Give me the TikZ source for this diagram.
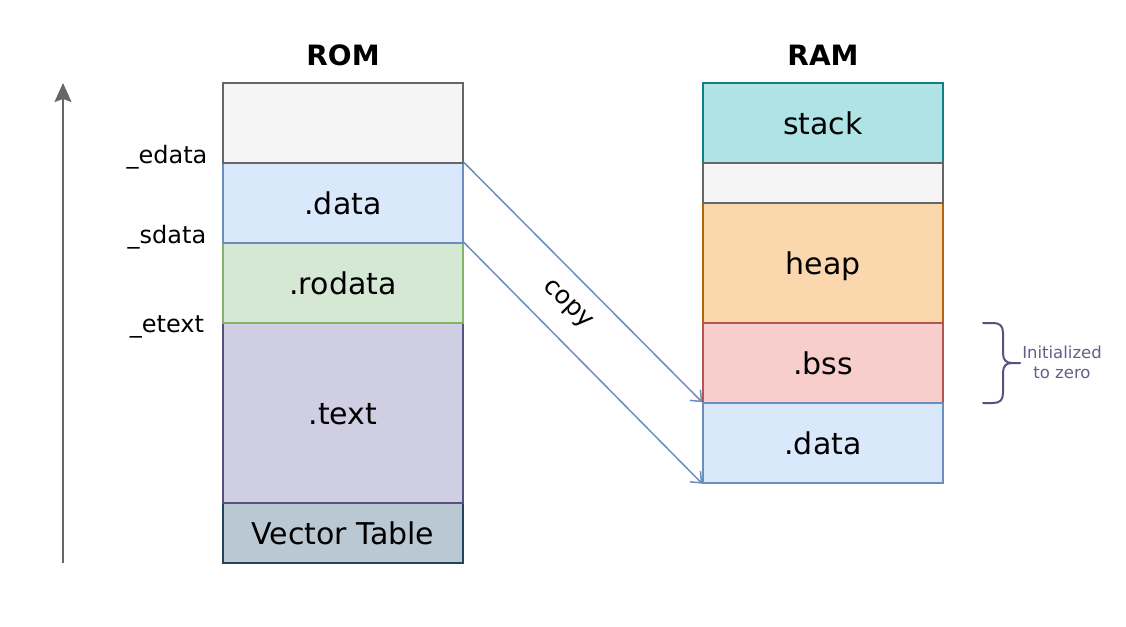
\documentclass[tikz,border=0pt]{standalone}
\usepackage{fontspec}
\setmainfont{DejaVu Sans}
\usetikzlibrary{arrows.meta}
\definecolor{grayfill}{HTML}{F5F5F5}
\definecolor{graydraw}{HTML}{666666}
\definecolor{bluefill}{HTML}{DAE8FC}
\definecolor{bluedraw}{HTML}{6C8EBF}
\definecolor{greenfill}{HTML}{D5E8D4}
\definecolor{greendraw}{HTML}{82B366}
\definecolor{purplefill}{HTML}{D0CEE2}
\definecolor{purpledraw}{HTML}{56517E}
\definecolor{vecfill}{HTML}{BAC8D3}
\definecolor{vecdraw}{HTML}{23445D}
\definecolor{stackfill}{HTML}{B0E3E6}
\definecolor{stackdraw}{HTML}{0E8088}
\definecolor{heapfill}{HTML}{FAD7AC}
\definecolor{heapdraw}{HTML}{B46504}
\definecolor{bssfill}{HTML}{F8CECC}
\definecolor{bssdraw}{HTML}{B85450}
\definecolor{notetext}{HTML}{625E8A}
\begin{document}
\begin{tikzpicture}[x=1pt,y=-1pt,
  mem/.style={draw, line width=1.5pt, minimum width=240pt, inner sep=0pt,
    font=\fontsize{30}{34}\selectfont, text height=22pt, text depth=0pt},
  title/.style={font=\bfseries\fontsize{28}{32}\selectfont, anchor=base},
  addr/.style={font=\fontsize{24}{28}\selectfont, anchor=base},
  copyarrow/.style={draw=bluedraw, line width=1.5pt, -{Straight Barb[length=9pt,width=15pt,line width=1.5pt]}},
  axisarrow/.style={draw=graydraw, line width=2pt, -{Stealth[length=19pt,width=17pt,inset=3pt]}},
  bracestyle/.style={draw=purpledraw, line width=2pt, line cap=round},
  note/.style={font=\fontsize{16.5}{20}\selectfont, text=notetext, align=center}
]
\useasboundingbox (0,0) rectangle (1126,626);

% titles
\node[title] (romtitle) at (343,66) {ROM};
\node[title] (ramtitle) at (823,66) {RAM};

% ROM (drawn bottom-up)
\node[mem, fill=vecfill, draw=vecdraw, minimum height=60pt] (vector) at (343,533) {Vector Table};
\node[mem, fill=purplefill, draw=purpledraw, minimum height=180pt] (text) at (343,413) {.text};
\node[mem, fill=greenfill, draw=greendraw, minimum height=80pt] (rodata) at (343,283) {.rodata};
\node[mem, fill=bluefill, draw=bluedraw, minimum height=80pt] (romdata) at (343,203) {.data};
\node[mem, fill=grayfill, draw=graydraw, minimum height=80pt] (romfree) at (343,123) {};

% RAM
\node[mem, fill=stackfill, draw=stackdraw, minimum height=80pt] (stack) at (823,123) {stack};
\node[mem, fill=heapfill, draw=heapdraw, minimum height=120pt] (heap) at (823,263) {heap};
\node[mem, fill=grayfill, draw=graydraw, minimum height=40pt] (ramfree) at (823,183) {};
\node[mem, fill=bssfill, draw=bssdraw, minimum height=80pt] (bss) at (823,363) {.bss};
\node[mem, fill=bluefill, draw=bluedraw, minimum height=80pt] (ramdata) at (823,443) {.data};

% address labels
\node[addr] (edata) at (167,163) {\_edata};
\node[addr] (sdata) at (167,243) {\_sdata};
\node[addr] (etext) at (167,332) {\_etext};

% axis arrow
\coordinate (axisbot) at (63,563);
\coordinate (axistop) at (63,83);
\draw[axisarrow] (axisbot) -- (axistop);

% copy arrows
\draw[copyarrow] (romdata.north east) -- (ramdata.north west);
\draw[copyarrow] (rodata.north east) -- (ramdata.south west);
\node[font=\fontsize{25}{29}\selectfont, rotate=-45, inner sep=0pt] (copylbl) at (567,305) {copy};

% brace
\draw[bracestyle] (983,323) -- (993,323) .. controls (1000,323) and (1003,326) .. (1003,333)
  -- (1003,353) .. controls (1003,360) and (1006,363) .. (1012,363) -- (1020,363);
\draw[bracestyle] (1012,363) .. controls (1006,363) and (1003,366) .. (1003,373)
  -- (1003,393) .. controls (1003,400) and (1000,403) .. (993,403) -- (983,403);
\node[note] (notelbl) at (1062,362) {Initialized\\to zero};
\end{tikzpicture}
\end{document}
